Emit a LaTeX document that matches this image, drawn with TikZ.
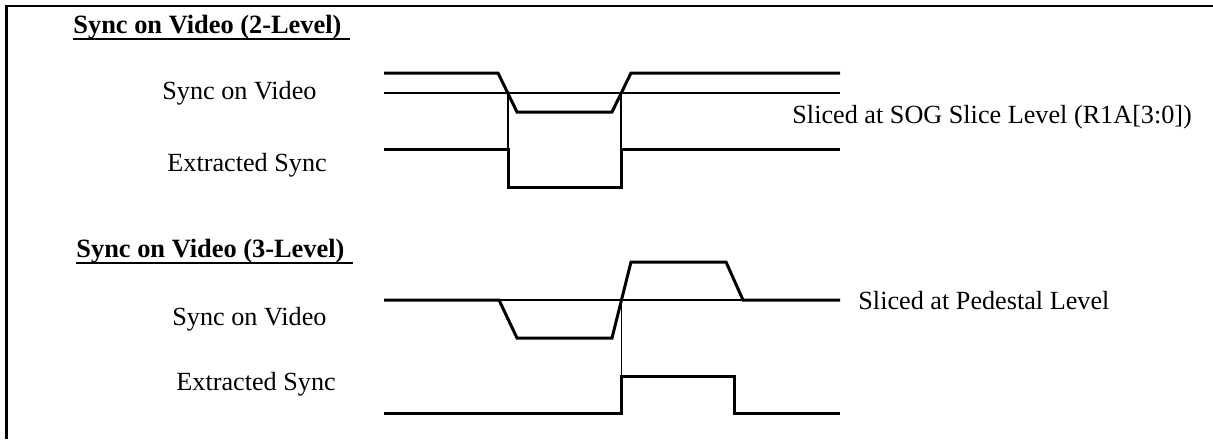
\documentclass[tikz,border=0pt]{standalone}
\usepackage{fontspec}
\setmainfont{Liberation Serif}
\usepackage{tikz}
\usetikzlibrary{calc}

\begin{document}
\begin{tikzpicture}[x=0.5pt,y=-0.5pt,
  wave/.style={line width=1.5pt},
  slice/.style={line width=1.1pt},
  guide/.style={line width=0.85pt},
  uline/.style={line width=0.9pt},
  frame/.style={line width=1.3pt},
  lbl/.style={anchor=base west,inner sep=0pt,font=\fontsize{13.1}{15}\selectfont},
  ttl/.style={lbl,font=\fontsize{13.2}{15}\selectfont\bfseries}]
\useasboundingbox (0,0) rectangle (1213,439);
\draw[frame] (6.3,439) -- (6.3,6) -- (1213,6);
% 2-level
\node[ttl] (title2lvl) at (73,33) {Sync on Video (2-Level)};
\draw[uline] ([yshift=-3pt]title2lvl.base west) -- ([xshift=4pt,yshift=-3pt]title2lvl.base east);
\node[lbl] (sog2lvl) at (162,99) {Sync on Video};
\node[lbl] (ext2lvl) at (167,171) {Extracted Sync};
\node[lbl] (slice2lvl) at (792,123) {Sliced at SOG Slice Level (R1A[3:0])};
\draw[slice] (384,93) -- (840,93);
\draw[wave] (384,73) -- (498,73) -- (517,112) -- (612,112) -- (631,73) -- (840,73);
\draw[wave] (384,149) -- (508,149) -- (508,187) -- (621.5,187) -- (621.5,149) -- (840,149);
\coordinate (fall2lvl) at (507.7,93);
\coordinate (rise2lvl) at (621.3,93);
\draw[guide] (fall2lvl) -- (fall2lvl |- 0,149);
\draw[guide] (rise2lvl) -- (rise2lvl |- 0,149);
% 3-level
\node[ttl] (title3lvl) at (76,257) {Sync on Video (3-Level)};
\draw[uline] ([yshift=-3pt]title3lvl.base west) -- ([xshift=4pt,yshift=-3pt]title3lvl.base east);
\node[lbl] (sog3lvl) at (172,325) {Sync on Video};
\node[lbl] (ext3lvl) at (176,390) {Extracted Sync};
\node[lbl] (slice3lvl) at (858,309) {Sliced at Pedestal Level};
\draw[slice] (384,300) -- (840,300);
\draw[wave] (384,300) -- (499,300) -- (517,338) -- (612,338) -- (631,262) -- (726,262) -- (743,300) -- (840,300);
\draw[wave] (384,413) -- (621.5,413) -- (621.5,376) -- (734,376) -- (734,413) -- (840,413);
\coordinate (rise3lvl) at (621.5,300);
\draw[guide] (rise3lvl) -- (rise3lvl |- 0,376);
\end{tikzpicture}
\end{document}
